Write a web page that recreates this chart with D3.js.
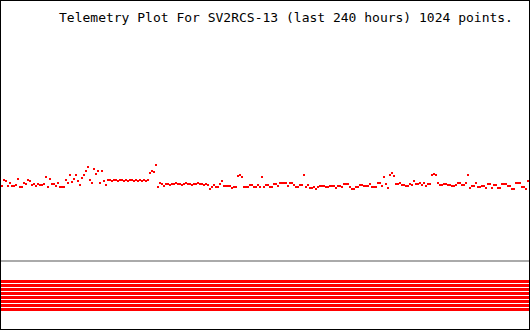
<!DOCTYPE html>
<html lang="en">
<head>
<meta charset="utf-8">
<title>Telemetry Plot SV2RCS-13</title>
<script src="https://cdn.jsdelivr.net/npm/d3@7"></script>
<style>
  body { margin: 0; background: #fff; }
  .title {
    font-family: 'DejaVu Sans Mono', 'Liberation Mono', monospace;
    font-size: 13px;
    fill: #000;
  }
</style>
</head>
<body>
<svg id="plot" width="530" height="330"></svg>
<script>
// telemetry readings, oldest first, spread over the last 240 hours
var titleText = "Telemetry Plot For SV2RCS-13 (last 240 hours) 1024 points.";
var spanHours = 240;
var readings = [
  74, 80, 79, 74, 77, 74, 74, 75, 81, 73, 73, 77, 76, 80, 79, 75, 76, 74, 76, 75,
  75, 76, 83, 73, 81, 76, 76, 74, 77, 73, 73, 73, 80, 77, 85, 78, 81, 85, 79, 75,
  82, 85, 89, 93, 80, 77, 91, 86, 89, 77, 89, 79, 75,
  80, 80, 79, 80, 80, 79, 80, 80, 79, 80, 79, 80, 80, 79, 80, 79, 80, 79, 80, 79, 80,
  87, 89, 88, 95, 73, 77, 76, 74, 76, 76, 75, 76, 76, 77, 76, 76, 75, 76, 77, 76,
  76, 75, 76, 76, 77, 76, 76, 75, 76, 75, 71, 73, 75, 73, 73, 76, 79, 74, 74, 74,
  74, 72, 73, 73, 84, 85, 83, 73, 73, 73, 75, 75, 73, 73, 75, 73, 83, 73, 75, 75,
  73, 73, 76, 76, 74, 77, 77, 77, 77, 74, 77, 77, 75, 73, 73, 75, 75, 85, 73, 75,
  72, 72, 73, 71, 73, 74, 74, 74, 73, 73, 74, 74, 74, 72, 74, 74, 73, 76, 76, 76,
  73, 71, 71, 73, 73, 75, 75, 74, 74, 74, 76, 73, 73, 73, 77, 77, 74, 83, 76, 72,
  85, 87, 84, 76, 76, 77, 75, 75, 74, 74, 76, 75, 79, 76, 76, 77, 75, 77, 74, 76,
  76, 85, 86, 85, 77, 75, 75, 76, 76, 75, 75, 74, 74, 75, 77, 77, 75, 75, 77, 85,
  72, 74, 74, 77, 73, 73, 74, 74, 72, 76, 76, 72, 75, 75, 72, 72, 76, 76, 76, 74,
  74, 71, 71, 77, 77, 77, 73, 73, 71, 79
];
// lower strip: channel rows that are all on
var stripRows = [0, 1, 2, 3, 4, 5, 6, 7];

var svg = d3.select("#plot"),
    width = +svg.attr("width"),
    height = +svg.attr("height");

svg.append("rect")
    .attr("width", width)
    .attr("height", height)
    .attr("fill", "#fff");

var x = d3.scaleLinear()
    .domain([-spanHours, 0])
    .range([1, 527]);

var y = d3.scaleLinear()
    .domain([0, 240])
    .range([260, 20]);

var strip = d3.scaleLinear()
    .domain([0, 7])
    .range([281.5, 309.5]);

var pts = readings.map(function(v, i) {
  return { h: -spanHours + i * spanHours / (readings.length - 1), v: v };
});

svg.append("text")
    .attr("class", "title")
    .attr("x", 59)
    .attr("y", 22)
    .text(titleText);

svg.append("g")
  .selectAll("rect")
  .data(pts)
  .enter().append("rect")
    .attr("x", function(d) { return x(d.h); })
    .attr("y", function(d) { return y(d.v) - 1; })
    .attr("width", 2)
    .attr("height", 2)
    .attr("fill", "#ff0000");

// separator between the two panels
svg.append("line")
    .attr("x1", 1).attr("x2", width - 1)
    .attr("y1", y(0) + 1).attr("y2", y(0) + 1)
    .attr("stroke", "#aaaaaa")
    .attr("stroke-width", 2);

svg.append("g")
  .selectAll("line")
  .data(stripRows)
  .enter().append("line")
    .attr("x1", 1).attr("x2", width - 1)
    .attr("y1", function(d) { return strip(d); })
    .attr("y2", function(d) { return strip(d); })
    .attr("stroke", "#ff0000")
    .attr("stroke-width", 3);

svg.append("rect")
    .attr("x", 0.5).attr("y", 0.5)
    .attr("width", width - 1).attr("height", height - 1)
    .attr("fill", "none")
    .attr("stroke", "#000")
    .attr("stroke-width", 1);
</script>
</body>
</html>
